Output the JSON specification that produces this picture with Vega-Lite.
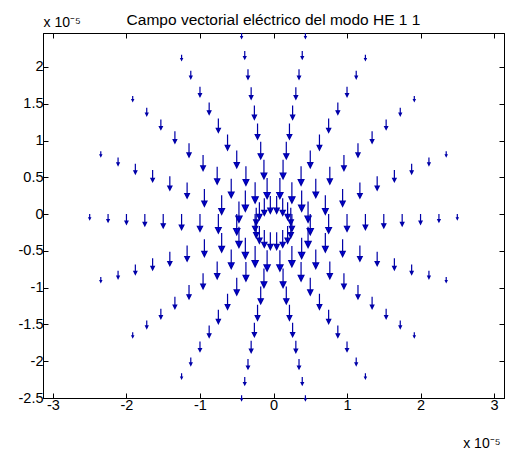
{
  "$schema": "https://vega.github.io/schema/vega-lite/v6.json",
  "width": 461,
  "height": 365,
  "autosize": {"type": "none"},
  "padding": {"left": 43, "top": 33, "right": 3, "bottom": 57},
  "background": "white",
  "title": {"text": "Campo vectorial eléctrico del modo HE 1 1", "font": "Liberation Sans", "fontSize": 15.5, "fontWeight": "normal", "color": "black", "anchor": "middle", "offset": -13},
  "config": {
    "view": {"stroke": "black", "strokeWidth": 1},
    "axis": {"grid": false, "domainColor": "black", "tickColor": "black", "tickSize": -5, "labelColor": "black", "labelFont": "Liberation Sans", "labelFontSize": 14.5, "titleFont": "Liberation Sans", "titleFontWeight": "normal", "titleFontSize": 14, "titleColor": "black"}
  },
  "data": {"values": [
    {"x":0.25,"y":0,"m":0.2},{"x":0.235,"y":0.086,"m":0.2},{"x":0.192,"y":0.161,"m":0.2},{"x":0.125,"y":0.217,"m":0.2},{"x":0.043,"y":0.246,"m":0.2},{"x":-0.043,"y":0.246,"m":0.2},{"x":-0.125,"y":0.217,"m":0.2},{"x":-0.192,"y":0.161,"m":0.2},{"x":-0.235,"y":0.086,"m":0.2},{"x":-0.25,"y":0,"m":0.2},{"x":-0.235,"y":-0.086,"m":0.2},{"x":-0.192,"y":-0.161,"m":0.2},{"x":-0.125,"y":-0.217,"m":0.2},{"x":-0.043,"y":-0.246,"m":0.2},{"x":0.043,"y":-0.246,"m":0.2},{"x":0.125,"y":-0.217,"m":0.2},{"x":0.192,"y":-0.161,"m":0.2},{"x":0.235,"y":-0.086,"m":0.2},
    {"x":0.5,"y":0,"m":0.24},{"x":0.47,"y":0.171,"m":0.24},{"x":0.383,"y":0.321,"m":0.24},{"x":0.25,"y":0.433,"m":0.24},{"x":0.087,"y":0.492,"m":0.24},{"x":-0.087,"y":0.492,"m":0.24},{"x":-0.25,"y":0.433,"m":0.24},{"x":-0.383,"y":0.321,"m":0.24},{"x":-0.47,"y":0.171,"m":0.24},{"x":-0.5,"y":0,"m":0.24},{"x":-0.47,"y":-0.171,"m":0.24},{"x":-0.383,"y":-0.321,"m":0.24},{"x":-0.25,"y":-0.433,"m":0.24},{"x":-0.087,"y":-0.492,"m":0.24},{"x":0.087,"y":-0.492,"m":0.24},{"x":0.25,"y":-0.433,"m":0.24},{"x":0.383,"y":-0.321,"m":0.24},{"x":0.47,"y":-0.171,"m":0.24},
    {"x":0.75,"y":0,"m":0.22},{"x":0.705,"y":0.257,"m":0.22},{"x":0.575,"y":0.482,"m":0.22},{"x":0.375,"y":0.65,"m":0.22},{"x":0.13,"y":0.739,"m":0.22},{"x":-0.13,"y":0.739,"m":0.22},{"x":-0.375,"y":0.65,"m":0.22},{"x":-0.575,"y":0.482,"m":0.22},{"x":-0.705,"y":0.257,"m":0.22},{"x":-0.75,"y":0,"m":0.22},{"x":-0.705,"y":-0.257,"m":0.22},{"x":-0.575,"y":-0.482,"m":0.22},{"x":-0.375,"y":-0.65,"m":0.22},{"x":-0.13,"y":-0.739,"m":0.22},{"x":0.13,"y":-0.739,"m":0.22},{"x":0.375,"y":-0.65,"m":0.22},{"x":0.575,"y":-0.482,"m":0.22},{"x":0.705,"y":-0.257,"m":0.22},
    {"x":1,"y":0,"m":0.2},{"x":0.94,"y":0.342,"m":0.2},{"x":0.766,"y":0.643,"m":0.2},{"x":0.5,"y":0.866,"m":0.2},{"x":0.174,"y":0.985,"m":0.2},{"x":-0.174,"y":0.985,"m":0.2},{"x":-0.5,"y":0.866,"m":0.2},{"x":-0.766,"y":0.643,"m":0.2},{"x":-0.94,"y":0.342,"m":0.2},{"x":-1,"y":0,"m":0.2},{"x":-0.94,"y":-0.342,"m":0.2},{"x":-0.766,"y":-0.643,"m":0.2},{"x":-0.5,"y":-0.866,"m":0.2},{"x":-0.174,"y":-0.985,"m":0.2},{"x":0.174,"y":-0.985,"m":0.2},{"x":0.5,"y":-0.866,"m":0.2},{"x":0.766,"y":-0.643,"m":0.2},{"x":0.94,"y":-0.342,"m":0.2},
    {"x":1.25,"y":0,"m":0.18},{"x":1.175,"y":0.428,"m":0.18},{"x":0.958,"y":0.804,"m":0.18},{"x":0.625,"y":1.083,"m":0.18},{"x":0.217,"y":1.231,"m":0.18},{"x":-0.217,"y":1.231,"m":0.18},{"x":-0.625,"y":1.083,"m":0.18},{"x":-0.958,"y":0.804,"m":0.18},{"x":-1.175,"y":0.428,"m":0.18},{"x":-1.25,"y":0,"m":0.18},{"x":-1.175,"y":-0.428,"m":0.18},{"x":-0.958,"y":-0.804,"m":0.18},{"x":-0.625,"y":-1.083,"m":0.18},{"x":-0.217,"y":-1.231,"m":0.18},{"x":0.217,"y":-1.231,"m":0.18},{"x":0.625,"y":-1.083,"m":0.18},{"x":0.958,"y":-0.804,"m":0.18},{"x":1.175,"y":-0.428,"m":0.18},
    {"x":1.5,"y":0,"m":0.16},{"x":1.41,"y":0.513,"m":0.16},{"x":1.149,"y":0.964,"m":0.16},{"x":0.75,"y":1.299,"m":0.16},{"x":0.26,"y":1.477,"m":0.16},{"x":-0.26,"y":1.477,"m":0.16},{"x":-0.75,"y":1.299,"m":0.16},{"x":-1.149,"y":0.964,"m":0.16},{"x":-1.41,"y":0.513,"m":0.16},{"x":-1.5,"y":0,"m":0.16},{"x":-1.41,"y":-0.513,"m":0.16},{"x":-1.149,"y":-0.964,"m":0.16},{"x":-0.75,"y":-1.299,"m":0.16},{"x":-0.26,"y":-1.477,"m":0.16},{"x":0.26,"y":-1.477,"m":0.16},{"x":0.75,"y":-1.299,"m":0.16},{"x":1.149,"y":-0.964,"m":0.16},{"x":1.41,"y":-0.513,"m":0.16},
    {"x":1.75,"y":0,"m":0.135},{"x":1.644,"y":0.599,"m":0.135},{"x":1.341,"y":1.125,"m":0.135},{"x":0.875,"y":1.516,"m":0.135},{"x":0.304,"y":1.723,"m":0.135},{"x":-0.304,"y":1.723,"m":0.135},{"x":-0.875,"y":1.516,"m":0.135},{"x":-1.341,"y":1.125,"m":0.135},{"x":-1.644,"y":0.599,"m":0.135},{"x":-1.75,"y":0,"m":0.135},{"x":-1.644,"y":-0.599,"m":0.135},{"x":-1.341,"y":-1.125,"m":0.135},{"x":-0.875,"y":-1.516,"m":0.135},{"x":-0.304,"y":-1.723,"m":0.135},{"x":0.304,"y":-1.723,"m":0.135},{"x":0.875,"y":-1.516,"m":0.135},{"x":1.341,"y":-1.125,"m":0.135},{"x":1.644,"y":-0.599,"m":0.135},
    {"x":2,"y":0,"m":0.115},{"x":1.879,"y":0.684,"m":0.115},{"x":1.532,"y":1.286,"m":0.115},{"x":1,"y":1.732,"m":0.115},{"x":0.347,"y":1.97,"m":0.115},{"x":-0.347,"y":1.97,"m":0.115},{"x":-1,"y":1.732,"m":0.115},{"x":-1.532,"y":1.286,"m":0.115},{"x":-1.879,"y":0.684,"m":0.115},{"x":-2,"y":0,"m":0.115},{"x":-1.879,"y":-0.684,"m":0.115},{"x":-1.532,"y":-1.286,"m":0.115},{"x":-1,"y":-1.732,"m":0.115},{"x":-0.347,"y":-1.97,"m":0.115},{"x":0.347,"y":-1.97,"m":0.115},{"x":1,"y":-1.732,"m":0.115},{"x":1.532,"y":-1.286,"m":0.115},{"x":1.879,"y":-0.684,"m":0.115},
    {"x":2.25,"y":0,"m":0.09},{"x":2.114,"y":0.77,"m":0.09},{"x":1.724,"y":1.446,"m":0.09},{"x":1.125,"y":1.949,"m":0.09},{"x":0.391,"y":2.216,"m":0.09},{"x":-0.391,"y":2.216,"m":0.09},{"x":-1.125,"y":1.949,"m":0.09},{"x":-1.724,"y":1.446,"m":0.09},{"x":-2.114,"y":0.77,"m":0.09},{"x":-2.25,"y":0,"m":0.09},{"x":-2.114,"y":-0.77,"m":0.09},{"x":-1.724,"y":-1.446,"m":0.09},{"x":-1.125,"y":-1.949,"m":0.09},{"x":-0.391,"y":-2.216,"m":0.09},{"x":0.391,"y":-2.216,"m":0.09},{"x":1.125,"y":-1.949,"m":0.09},{"x":1.724,"y":-1.446,"m":0.09},{"x":2.114,"y":-0.77,"m":0.09},
    {"x":2.5,"y":0,"m":0.06},{"x":2.349,"y":0.855,"m":0.06},{"x":1.915,"y":1.607,"m":0.06},{"x":1.25,"y":2.165,"m":0.06},{"x":0.434,"y":2.462,"m":0.06},{"x":-0.434,"y":2.462,"m":0.06},{"x":-1.25,"y":2.165,"m":0.06},{"x":-1.915,"y":1.607,"m":0.06},{"x":-2.349,"y":0.855,"m":0.06},{"x":-2.5,"y":0,"m":0.06},{"x":-2.349,"y":-0.855,"m":0.06},{"x":-1.915,"y":-1.607,"m":0.06},{"x":-1.25,"y":-2.165,"m":0.06},{"x":-0.434,"y":-2.462,"m":0.06},{"x":0.434,"y":-2.462,"m":0.06},{"x":1.25,"y":-2.165,"m":0.06},{"x":1.915,"y":-1.607,"m":0.06},{"x":2.349,"y":-0.855,"m":0.06}
  ]},
  "layer": [
    {
      "mark": {"type": "point", "shape": "M0,0L0,2M-0.3,1.4L0.3,1.4L0,2Z", "filled": true, "fill": "#0000ff", "stroke": "#0000a8", "strokeWidth": 1.2, "opacity": 1},
      "encoding": {
        "x": {"field": "x", "type": "quantitative", "scale": {"domain": [-3.135, 3.135], "nice": false, "zero": false},
              "axis": {"orient": "bottom", "values": [-3, -2, -1, 0, 1, 2, 3], "labelExpr": "'' + datum.value", "labelPadding": 5, "title": "x 10⁻⁵", "titleAngle": 0, "titleX": 457, "titleY": 49, "titleAlign": "right", "titleBaseline": "alphabetic"}},
        "y": {"field": "y", "type": "quantitative", "scale": {"domain": [-2.5, 2.462], "nice": false, "zero": false},
              "axis": {"orient": "left", "values": [-2.5, -2, -1.5, -1, -0.5, 0, 0.5, 1, 1.5, 2], "labelExpr": "'' + datum.value", "labelPadding": 5, "title": "x 10⁻⁵", "titleAngle": 0, "titleX": 0, "titleY": -7, "titleAlign": "left", "titleBaseline": "alphabetic"}},
        "size": {"field": "m", "type": "quantitative", "scale": {"type": "pow", "exponent": 2, "domain": [0, 0.3], "range": [0, 680]}, "legend": null}
      }
    },
    {
      "mark": {"type": "point", "opacity": 0},
      "encoding": {
        "x": {"field": "x", "type": "quantitative", "axis": {"orient": "top", "values": [-3, -2, -1, 0, 1, 2, 3], "labels": false, "title": null}},
        "y": {"field": "y", "type": "quantitative", "axis": {"orient": "right", "values": [-2.5, -2, -1.5, -1, -0.5, 0, 0.5, 1, 1.5, 2], "labels": false, "title": null}}
      }
    }
  ],
  "resolve": {"axis": {"x": "independent", "y": "independent"}}
}
